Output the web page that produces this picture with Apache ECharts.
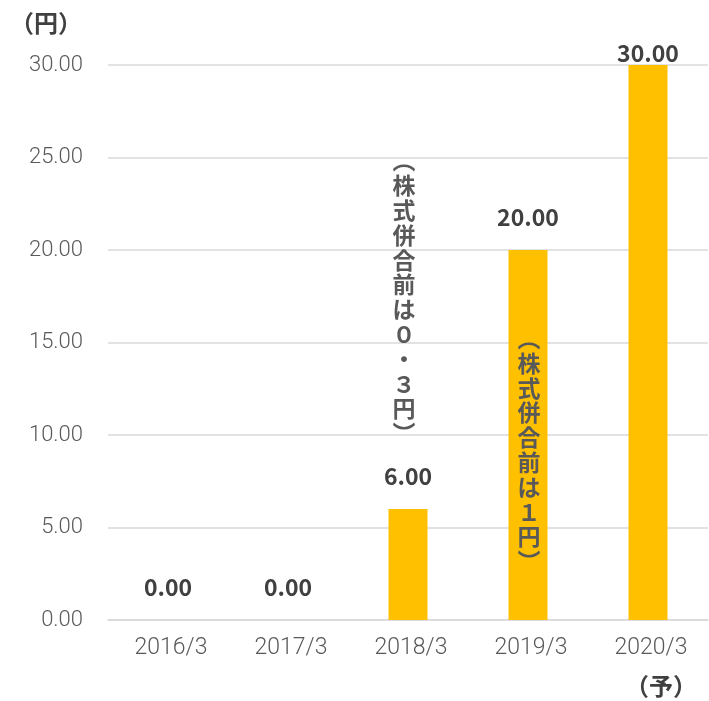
<!DOCTYPE html>
<html><head><meta charset="utf-8">
<script src="https://cdn.jsdelivr.net/npm/echarts@6/dist/echarts.min.js"></script>
<style>html,body{margin:0;padding:0;background:#fff}#c{width:709px;height:701px}</style>
</head><body><div id="c"></div>
<script>
const categories = ['2016/3','2017/3','2018/3','2019/3','2020/3'];
const dividends = [0, 0, 6, 20, 30];
const yTicks = [0, 5, 10, 15, 20, 25, 30];
const noteTexts = ['︵株式併合前は０・３円︶', '︵株式併合前は１円︶'];
const noteCats = ['2018/3', '2019/3'];
const noteTopValues = [25.5, 15.9];
const unitLabel = '（円）';
const forecastLabel = '（予）';

const chart = echarts.init(document.getElementById('c'));
const FONT = '"Noto Sans CJK JP", "Noto Sans", sans-serif';
const LIGHT = 'Roboto, "Noto Sans", sans-serif';
chart.setOption({
  animation: false,
  grid: {left: 108, right: 1, top: 65, bottom: 81},
  xAxis: {
    type: 'category', data: categories,
    axisLine: {lineStyle: {color: '#d9d9d9', width: 1.5}},
    axisTick: {show: false},
    axisLabel: {color: '#595959', fontSize: 23, fontFamily: LIGHT, fontWeight: 300, margin: 17,
      padding: [0, 0, 0, 6]}
  },
  yAxis: {
    type: 'value', min: yTicks[0], max: yTicks[yTicks.length-1], interval: 5,
    axisLine: {show: false}, axisTick: {show: false},
    splitLine: {lineStyle: {color: '#d9d9d9', width: 1.5}},
    axisLabel: {color: '#595959', fontSize: 22, fontFamily: LIGHT, fontWeight: 300, margin: 25,
      formatter: v => v.toFixed(2)}
  },
  series: [{
    type: 'bar', data: dividends.map((v, i) => ({
      value: v,
      label: i === 4 ? {distance: 0} : {}
    })),
    barWidth: 39,
    itemStyle: {color: '#FFC000'},
    label: {show: true, position: 'top', distance: 21, color: '#404040', fontSize: 23,
      fontWeight: 'bold', fontFamily: FONT, formatter: p => p.value.toFixed(2)}
  }]
});

function place() {
  const g = [];
  noteTexts.forEach((t, i) => {
    const p = chart.convertToPixel({xAxisIndex: 0, yAxisIndex: 0}, [noteCats[i], noteTopValues[i]]);
    g.push({type: 'text', z: 100, x: p[0] + (i === 0 ? -4 : 1), y: p[1], style: {
      text: t.split('').join('\n'), fill: '#595959', fontSize: 23, lineHeight: 24.8,
      fontWeight: 'bold', fontFamily: FONT, align: 'center', verticalAlign: 'top'}});
  });
  g.push({type: 'text', z: 100, x: 46, y: 23, style: {text: unitLabel, fill: '#404040', fontSize: 24, fontWeight: 'bold', fontFamily: FONT, align: 'center', verticalAlign: 'middle'}});
  const fp = chart.convertToPixel({xAxisIndex: 0}, categories[4]);
  g.push({type: 'text', z: 100, x: fp + 13, y: 686, style: {text: forecastLabel, fill: '#404040', fontSize: 24, fontWeight: 'bold', fontFamily: FONT, align: 'center', verticalAlign: 'middle'}});
  chart.setOption({graphic: g});
}
place();
</script></body></html>
